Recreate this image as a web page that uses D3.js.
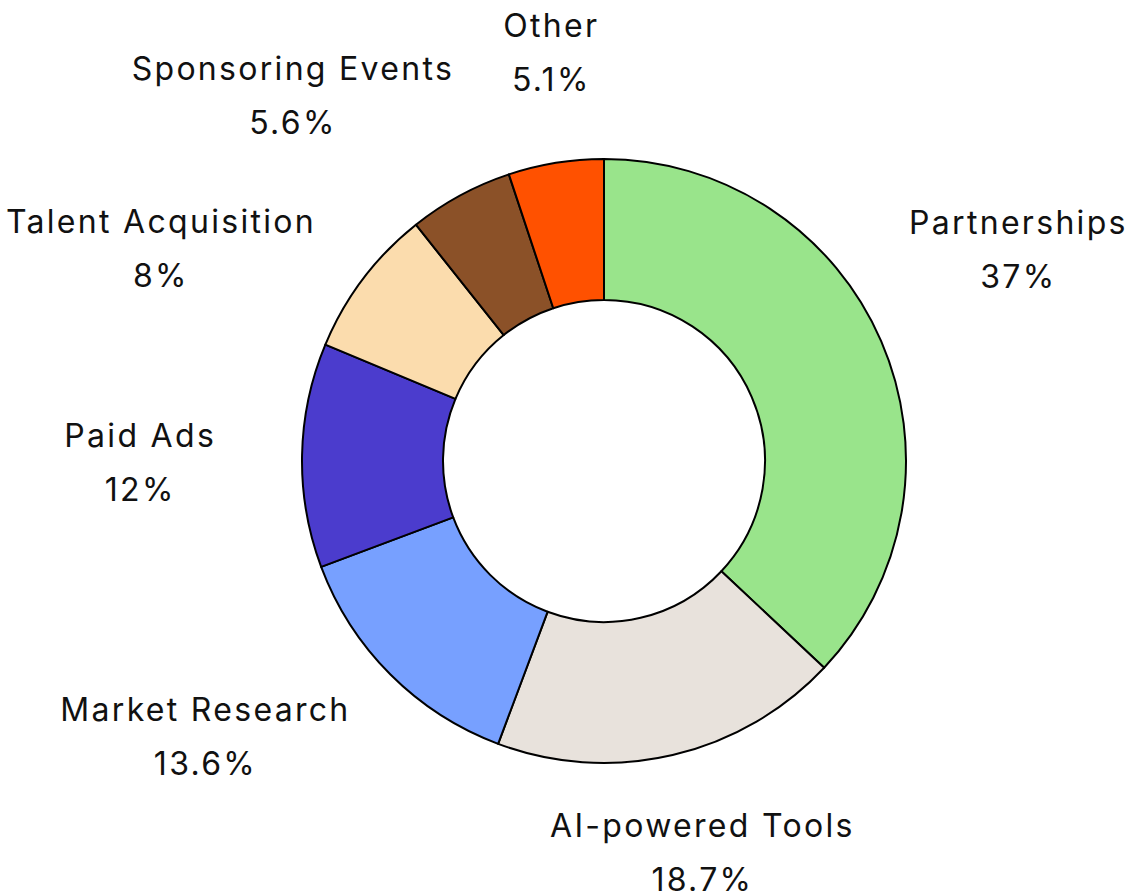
<!DOCTYPE html>
<html>
<head>
<meta charset="utf-8">
<script src="https://cdn.jsdelivr.net/npm/d3@7"></script>
<style>
  body { margin: 0; background: #fff; }
  svg text { font-family: Inter, "Noto Sans", sans-serif; font-size: 32px; letter-spacing: 2.3px; fill: #111; }
</style>
</head>
<body>
<div id="chart"></div>
<script>
// budget share by category, clockwise from 12 o'clock
const categories = ["Partnerships", "AI-powered Tools", "Market Research", "Paid Ads",
                    "Talent Acquisition", "Sponsoring Events", "Other"];
const shares = [37, 18.7, 13.6, 12, 8, 5.6, 5.1];
const shareLabels = ["37%", "18.7%", "13.6%", "12%", "8%", "5.6%", "5.1%"];
const colors = ["#99e48b", "#e8e2dc", "#77a0ff", "#4b3ccd", "#fbdcad", "#8b5128", "#ff5100"];

// small hand nudges so the labels don't crowd each other
const labelNudge = [[-20, -52], [-19, 0], [-39, -9], [-24, 9], [-29, 30], [-61, -12], [13, -11]];

const width = 1136, height = 896;
const cx = 604, cy = 461;
const outerR = 302, innerR = 161;
const lineGap = 54, capH = 23;

const svg = d3.select("#chart").append("svg")
  .attr("width", width)
  .attr("height", height);

const g = svg.append("g").attr("transform", `translate(${cx},${cy})`);

const pie = d3.pie().sort(null).value(d => d.value);
const arc = d3.arc().innerRadius(innerR).outerRadius(outerR);

const data = categories.map((c, i) => ({ name: c, value: shares[i], label: shareLabels[i], color: colors[i], i: i }));
const arcs = pie(data);

g.selectAll("path.slice")
  .data(arcs)
  .enter()
  .append("path")
  .attr("class", "slice")
  .attr("d", arc)
  .attr("fill", d => d.data.color)
  .attr("stroke", "#000")
  .attr("stroke-width", 2)
  .attr("stroke-linejoin", "round");

// labels: two lines, the box pushed outward so it sits just outside the ring
const labelR = outerR + 62;
const txt = g.selectAll("text.label")
  .data(arcs)
  .enter()
  .append("text")
  .attr("class", "label")
  .attr("text-anchor", "middle");

txt.append("tspan").attr("class", "l1").text(d => d.data.name);
txt.append("tspan").attr("class", "l2").text(d => d.data.label);

txt.each(function(d) {
  const a = (d.startAngle + d.endAngle) / 2;
  const s = Math.sin(a), c = -Math.cos(a);
  const t = d3.select(this);
  const w = Math.max(t.select(".l1").node().getComputedTextLength(),
                     t.select(".l2").node().getComputedTextLength());
  const h = capH + lineGap;
  const nudge = labelNudge[d.data.i];
  const x = labelR * s + s * w / 2 + nudge[0];
  const y = labelR * c + c * h / 2 + nudge[1];
  const base1 = y - h / 2 + capH;
  t.selectAll("tspan").attr("x", x);
  t.select(".l1").attr("y", base1);
  t.select(".l2").attr("y", base1 + lineGap);
});
</script>
</body>
</html>
